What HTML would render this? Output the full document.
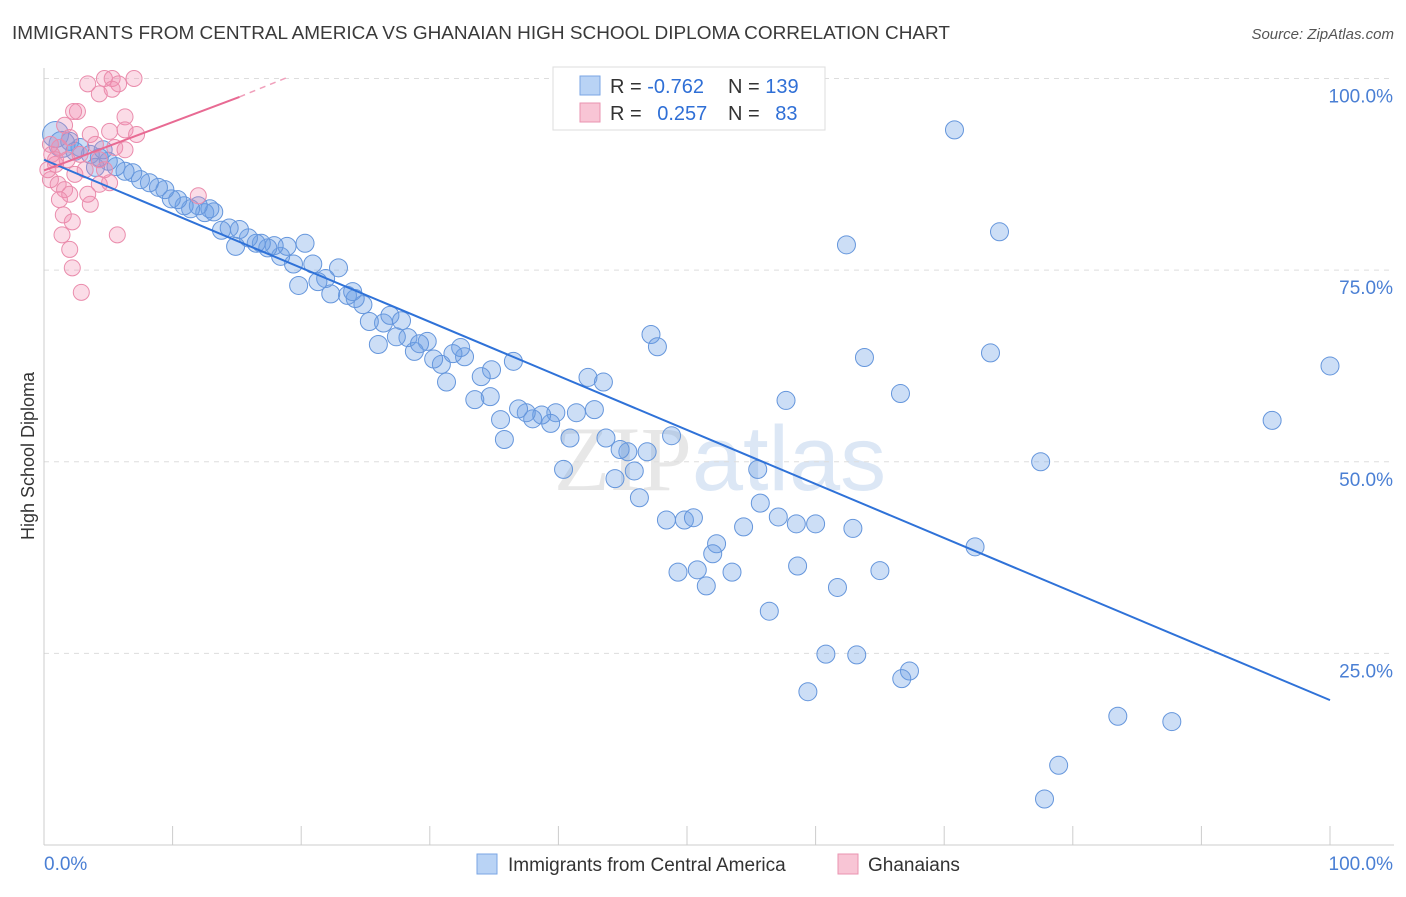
<!DOCTYPE html>
<html><head><meta charset="utf-8"><style>
body{margin:0;background:#fff;font-family:"Liberation Sans",sans-serif;}
svg text{font-family:"Liberation Sans",sans-serif;}
</style></head><body>
<svg id="chart" width="1406" height="892" xmlns="http://www.w3.org/2000/svg">
<text x="12" y="39" font-size="18.5" fill="#3a3a3a" textLength="938" lengthAdjust="spacingAndGlyphs">IMMIGRANTS FROM CENTRAL AMERICA VS GHANAIAN HIGH SCHOOL DIPLOMA CORRELATION CHART</text>
<text x="1394" y="39" font-size="15" fill="#555" text-anchor="end" font-style="italic">Source: ZipAtlas.com</text>
<text x="720" y="490" font-size="92" fill="#d8d8d8" opacity="0.6" text-anchor="middle"><tspan font-family="Liberation Serif">ZIP</tspan><tspan fill="#c5d8f0">atlas</tspan></text>
<text transform="translate(34,456) rotate(-90)" font-size="18" fill="#333" text-anchor="middle">High School Diploma</text>
<g id="grid"></g><g id="axes"></g><g id="blue"></g><g id="pink"></g><g id="lines"></g>
<g>
<rect x="553" y="67" width="272" height="63" fill="#fff" stroke="#ddd"/>
<rect x="580" y="76" width="20" height="19" fill="#b9d3f5" stroke="#7aa6e4"/>
<rect x="580" y="103" width="20" height="19" fill="#f8c5d5" stroke="#ea93b0"/>
<text x="610" y="93" font-size="20" fill="#333">R = <tspan fill="#2f6fd6">-0.762</tspan></text>
<text x="728" y="93" font-size="20" fill="#333">N = <tspan fill="#2f6fd6">139</tspan></text>
<text x="610" y="120" font-size="20" fill="#333">R = <tspan fill="#2f6fd6" dx="10">0.257</tspan></text>
<text x="728" y="120" font-size="20" fill="#333">N = <tspan fill="#2f6fd6" dx="10">83</tspan></text>
</g>
<g>
<rect x="477" y="854" width="20" height="20" fill="#b9d3f5" stroke="#7aa6e4"/>
<text x="508" y="871" font-size="19" fill="#333">Immigrants from Central America</text>
<rect x="838" y="854" width="20" height="20" fill="#f8c5d5" stroke="#ea93b0"/>
<text x="868" y="871" font-size="19" fill="#333">Ghanaians</text>
</g>
</svg>
<script>
const yTicks=[25,50,75,100];
const yTickLabels=["25.0%","50.0%","75.0%","100.0%"];
const xTicks=[0,10,20,30,40,50,60,70,80,90,100];
const blueX=[70.8,62.4,74.3,100,73.6,63.8,66.6,95.5,77.5,72.4,57.7,47.2,47.7,54.3,55.5,55.7,57.1,58.5,60.0,62.9,54.4,52.3,52.0,50.8,49.3,51.5,53.5,58.6,65.0,61.7,56.4,60.8,63.2,67.3,66.7,59.4,83.5,87.7,78.9,77.8,48.4,49.8,50.5,48.8,46.3,45.9,46.9,45.4,44.4,44.8,43.7,42.3,43.5,40.4,40.9,41.4,42.8,39.8,39.4,38.7,38.0,37.5,36.9,35.5,35.8,34.7,33.5,34.8,34.0,36.5,31.3,30.9,30.3,32.7,32.4,31.8,29.8,28.8,28.3,27.4,29.2,26.0,26.4,25.3,26.9,27.8,24.8,24.2,23.6,24.0,22.3,22.9,21.9,20.9,21.3,19.8,19.4,18.4,20.3,18.9,17.9,17.4,16.9,16.5,15.9,14.9,15.2,14.4,13.8,13.2,12.5,12.9,12.0,11.4,10.9,10.4,9.9,9.4,8.9,8.2,7.5,6.9,6.3,5.6,5.0,4.3,3.6,2.8,2.0,0.9,1.4,2.4,4.0,4.6];
const blueY=[93.3,78.3,80.0,62.5,64.2,63.6,58.9,55.4,50.0,38.9,58.0,66.6,65.0,99.9,49.0,44.6,42.8,41.9,41.9,41.3,41.5,39.3,38.0,35.9,35.6,33.8,35.6,36.4,35.8,33.6,30.5,24.9,24.8,22.7,21.7,20.0,16.8,16.1,10.4,6.0,42.4,42.4,42.7,53.4,45.3,48.8,51.3,51.3,47.8,51.6,53.1,61.0,60.4,49.0,53.1,56.4,56.8,56.4,55.0,56.1,55.6,56.4,56.9,55.5,52.9,58.5,58.1,62.0,61.1,63.1,60.4,62.7,63.4,63.7,64.9,64.1,65.7,64.4,66.2,66.3,65.4,65.3,68.1,68.3,69.1,68.4,70.5,71.3,71.7,72.2,71.9,75.3,73.9,75.8,73.5,73.0,75.8,76.8,78.5,78.1,78.2,77.9,78.5,78.5,79.2,78.1,80.3,80.5,80.2,82.6,82.5,83.0,83.4,83.0,83.4,84.2,84.3,85.5,85.8,86.4,86.8,87.7,87.9,88.5,89.2,89.7,90.1,91.0,91.8,92.7,91.4,90.5,88.4,90.7];
const pinkX=[4.7,5.3,7.0,3.4,5.8,4.3,5.3,2.6,2.3,6.3,6.3,5.1,7.2,1.6,3.6,2.0,1.2,0.6,2.8,5.5,6.3,4.3,0.9,0.5,1.1,1.6,2.0,4.3,5.1,3.6,1.5,2.2,1.4,5.7,2.0,2.2,2.9,12.0,0.9,0.3,3.2,4.0,2.4,4.7,1.2,0.5,1.8,3.4];
const pinkY=[100,100,100,99.3,99.3,98.0,98.6,95.7,95.7,95.0,93.3,93.1,92.7,93.9,92.7,92.3,91.0,90.1,90.1,91.0,90.7,89.4,88.8,86.8,86.2,85.5,84.9,86.2,86.4,83.6,82.2,81.3,79.6,79.6,77.7,75.3,72.1,84.7,89.4,88.1,88.1,91.4,87.5,88.1,84.2,91.4,89.4,84.9];
const blueTrend=[0,89.4,100,18.9];
const pinkTrend=[0,88,15.2,97.6,19,100.2];
const NS='http://www.w3.org/2000/svg';
const X=v=>44+v*12.86, Y=v=>845-v*7.665;
function mk(t,a,p){const e=document.createElementNS(NS,t);for(const k in a)e.setAttribute(k,a[k]);document.getElementById(p).appendChild(e);return e;}
yTicks.forEach((t,i)=>{
 const l=mk('line',{x1:44,x2:1394,y1:Y(t),y2:Y(t),stroke:'#ddd','stroke-dasharray':'5,5'},'grid');
 
 
 const tx=mk('text',{x:1393,y:Y(t)+24,'font-size':19,fill:'#4a7fd4','text-anchor':'end'},'axes');
 tx.textContent=yTickLabels[i];
 
 
});
const ax=mk('line',{x1:44,x2:1394,y1:845,y2:845,stroke:'#ccc'},'axes');


const ay=mk('line',{x1:44,x2:44,y1:68,y2:845,stroke:'#ccc'},'axes');


xTicks.forEach(t=>{const l=mk('line',{x1:X(t),x2:X(t),y1:826,y2:845,stroke:'#ccc'},'axes');
 
 });
const x0=mk('text',{x:44,y:870,'font-size':19,fill:'#4a7fd4'},'axes');x0.textContent='0.0%';


const x1=mk('text',{x:1393,y:870,'font-size':19,fill:'#4a7fd4','text-anchor':'end'},'axes');x1.textContent='100.0%';


blueX.forEach((v,i)=>{const c=mk('circle',{cx:X(v),cy:Y(blueY[i]),r:(v<1.5?13:9),fill:'rgba(110,160,230,0.35)',stroke:'#6596dc','stroke-width':1},'blue');
 
 });
pinkX.forEach((v,i)=>{const c=mk('circle',{cx:X(v),cy:Y(pinkY[i]),r:8,fill:'rgba(242,140,175,0.3)',stroke:'#ea8cac','stroke-width':1},'pink');
 
 });
const bl=mk('line',{x1:X(blueTrend[0]),y1:Y(blueTrend[1]),x2:X(blueTrend[2]),y2:Y(blueTrend[3]),stroke:'#2f72d8','stroke-width':2},'lines');


const pl=mk('line',{x1:X(pinkTrend[0]),y1:Y(pinkTrend[1]),x2:X(pinkTrend[2]),y2:Y(pinkTrend[3]),stroke:'#e86a93','stroke-width':2},'lines');


const pd=mk('line',{x1:X(pinkTrend[2]),y1:Y(pinkTrend[3]),x2:X(pinkTrend[4]),y2:Y(pinkTrend[5]),stroke:'#f0a0bb','stroke-width':1.5,'stroke-dasharray':'6,5'},'lines');


</script>
</body></html>
